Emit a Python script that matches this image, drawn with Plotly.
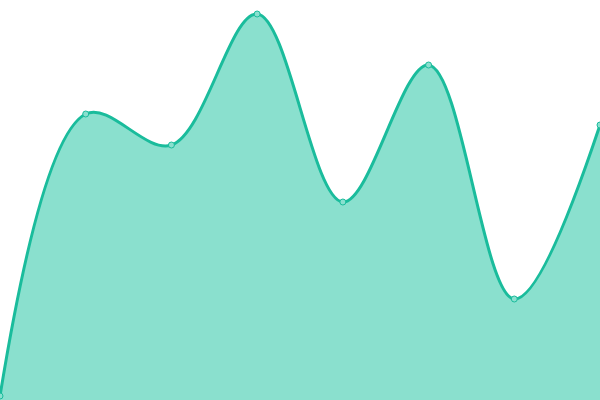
import plotly.graph_objects as go

# Data
x_vals = [0, 1, 2, 3, 4, 5, 6, 7]
y_vals = [4, 286, 255, 386, 198, 335, 101, 275]

line_color = "#1abc9c"
fill_color = "#8ae0ce"

fig = go.Figure()
fig.add_trace(go.Scatter(
    x=x_vals, y=y_vals,
    mode="lines+markers",
    line=dict(color=line_color, width=3, shape="spline", smoothing=1.0),
    fill="tozeroy",
    fillcolor=fill_color,
    marker=dict(size=6, color="#8ae0cf", line=dict(color=line_color, width=1)),
    cliponaxis=False,
    hoverinfo="x+y",
))

fig.update_layout(
    width=600, height=400,
    margin=dict(l=0, r=0, t=0, b=0),
    paper_bgcolor="white",
    plot_bgcolor="white",
    showlegend=False,
)
fig.update_xaxes(visible=False, range=[0, 7])
fig.update_yaxes(visible=False, range=[0, 400])

# drop the page's default body margin so the chart sits flush at 0,0
fig.write_html("out.html",
               config={"displayModeBar": False},
               post_script="document.body.style.margin='0';document.body.style.overflow='hidden';")
